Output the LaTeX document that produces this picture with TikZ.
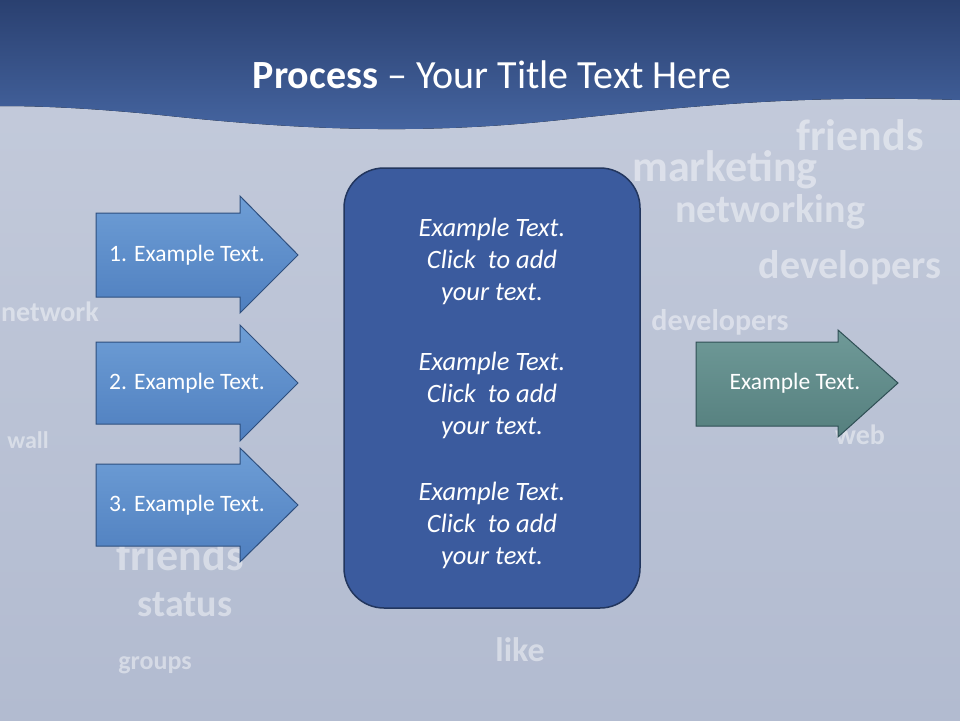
\documentclass[tikz,border=0pt]{standalone}
\usepackage{fontspec}
\setmainfont{Carlito}
\definecolor{bgA}{HTML}{C5CCDC}
\definecolor{bgB}{HTML}{B2BBD0}
\definecolor{hdA}{HTML}{2A4070}
\definecolor{hdB}{HTML}{4666A2}
\definecolor{arA}{HTML}{6E9ED6}
\definecolor{arB}{HTML}{4F7FBF}
\definecolor{arE}{HTML}{2E4F7E}
\definecolor{boxF}{HTML}{3B5B9E}
\definecolor{boxE}{HTML}{22365E}
\definecolor{tlA}{HTML}{6F9A98}
\definecolor{tlB}{HTML}{557F7E}
\definecolor{tlE}{HTML}{2F4F55}
\tikzset{
  bluearrow/.style={draw=arE,line width=1pt,top color=arA,bottom color=arB},
  tealarrow/.style={draw=tlE,line width=1pt,top color=tlA,bottom color=tlB},
  arrowtext/.style={text=white,font=\fontsize{23.5}{26}\selectfont},
  boxtext/.style={text=white,font=\itshape\fontsize{26.5}{32}\selectfont,align=center},
  cloud/.style={text=white,opacity=0.45}
}
\begin{document}
\begin{tikzpicture}[x=1pt,y=-1pt]
\useasboundingbox (0,0) rectangle (960,720);
\fill[top color=bgA,bottom color=bgB] (0,0) rectangle (960,720);
% faint word cloud
\node[cloud,font=\bfseries\fontsize{44}{44}\selectfont] (w1) at (860,135) {friends};
\node[cloud,font=\bfseries\fontsize{44}{44}\selectfont] (w2) at (725,170) {marketing};
\node[cloud,font=\bfseries\fontsize{40}{40}\selectfont] (w3) at (770,212) {networking};
\node[cloud,font=\bfseries\fontsize{40}{40}\selectfont] (w4) at (850,268) {developers};
\node[cloud,font=\bfseries\fontsize{30}{30}\selectfont] (w5) at (720,322) {developers};
\node[cloud,font=\bfseries\fontsize{38}{38}\selectfont] (w6) at (185,605) {status};
\node[cloud,font=\bfseries\fontsize{44}{44}\selectfont] (w7) at (180,555) {friends};
\node[cloud,font=\bfseries\fontsize{34}{34}\selectfont] (w8) at (520,650) {like};
\node[cloud,font=\bfseries\fontsize{26}{26}\selectfont] (w9) at (155,665) {groups};
\node[cloud,font=\bfseries\fontsize{28}{28}\selectfont] (w10) at (50,312) {network};
\node[cloud,font=\bfseries\fontsize{28}{28}\selectfont] (w11) at (860,435) {web};
\node[cloud,font=\bfseries\fontsize{24}{24}\selectfont] (w12) at (28,440) {wall};
% header
\fill[top color=hdA,bottom color=hdB] (0,0) -- (960,0) -- (960,100)
  .. controls (800,95) and (700,105) .. (560,120)
  .. controls (420,135) and (300,130) .. (160,115)
  .. controls (90,108) and (40,106) .. (0,106) -- cycle;
\node[text=white,font=\fontsize{40}{46}\selectfont] (title) at (492,75) {\textbf{Process} -- Your Title Text Here};
% left arrows
\draw[bluearrow] (96,213) -- (240,213) -- (240,196) -- (298,255) -- (240,313) -- (240,297) -- (96,297) -- cycle;
\node[arrowtext] (a1) at (187,255) {1. Example Text.};
\draw[bluearrow] (96,342) -- (240,342) -- (240,325) -- (298,383) -- (240,441) -- (240,424) -- (96,424) -- cycle;
\node[arrowtext] (a2) at (187,383) {2. Example Text.};
\draw[bluearrow] (96,464) -- (240,464) -- (240,448) -- (298,505) -- (240,562) -- (240,546) -- (96,546) -- cycle;
\node[arrowtext] (a3) at (187,505) {3. Example Text.};
% central box
\draw[draw=boxE,line width=1.5pt,fill=boxF,rounded corners=40pt] (344,168) rectangle (640,608);
\node[boxtext] (t1) at (492,261) {Example Text.\\Click\ \ to add\\your text.};
\node[boxtext] (t2) at (492,395) {Example Text.\\Click\ \ to add\\your text.};
\node[boxtext] (t3) at (492,525) {Example Text.\\Click\ \ to add\\your text.};
% right arrow
\draw[tealarrow] (696,342) -- (838,342) -- (838,330) -- (898,383) -- (838,437) -- (838,426) -- (696,426) -- cycle;
\node[arrowtext] (r1) at (795,383) {Example Text.};
\end{tikzpicture}
\end{document}
